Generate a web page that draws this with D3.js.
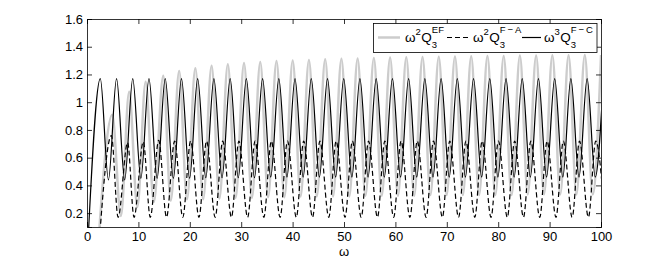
<!doctype html>
<html>
  <head>
    <meta charset="utf-8">
    <title>Q3 vs omega</title>
    <style>
      * { margin: 0; padding: 0; }
      body { background: #fff; }
      text { font-family: "Liberation Sans", Arial, sans-serif; fill: #000; }
    </style>
    <script src="https://cdnjs.cloudflare.com/ajax/libs/d3/7.8.5/d3.min.js"></script>
  </head>
  <body>
    <script>
      // values: extrema of each curve (omega, value)
      var xTicks = [0, 10, 20, 30, 40, 50, 60, 70, 80, 90, 100];
      var yTicks = [0.2, 0.4, 0.6, 0.8, 1, 1.2, 1.4, 1.6];

      // w^2 Q3^EF (light grey)
      var efX = [2.2, 4.9, 6.6, 8.2, 9.8, 11.41, 13.0, 14.84, 16.3, 17.93, 19.45, 21.08, 22.6, 24.24, 25.76, 27.4, 28.92,
                 30.55, 32.08, 33.71, 35.24, 36.87, 38.4, 40.02, 41.55, 43.18, 44.71, 46.34, 47.87, 49.5, 51.03, 52.65,
                 54.18, 55.81, 57.34, 58.97, 60.5, 62.12, 63.65, 65.28, 66.81, 68.44, 69.97, 71.59, 73.12, 74.75, 76.28,
                 77.91, 79.44, 81.07, 82.6, 84.22, 85.75, 87.38, 88.91, 90.54, 92.07, 93.69, 95.22, 96.85, 98.38, 100.01];
      var efY = [-0.02, 0.91, 0.18, 1.075, 0.245, 1.148, 0.28, 1.19, 0.29, 1.225, 0.30, 1.244, 0.30, 1.263, 0.305, 1.273, 0.31,
                 1.283, 0.31, 1.29, 0.315, 1.297, 0.315, 1.30, 0.32, 1.305, 0.32, 1.31, 0.32, 1.313, 0.32, 1.316,
                 0.325, 1.319, 0.325, 1.322, 0.325, 1.324, 0.325, 1.326, 0.33, 1.328, 0.33, 1.33, 0.33, 1.331, 0.33,
                 1.333, 0.33, 1.334, 0.33, 1.336, 0.335, 1.337, 0.335, 1.338, 0.335, 1.339, 0.335, 1.34, 0.335, 1.34];

      // w^2 Q3^F-A (dashed)
      var faX = [2.3, 4.75, 6.05, 7.9, 9.15, 10.95, 12.31, 13.95, 15.47, 17.05, 18.63, 20.16, 21.78, 23.26, 24.94, 26.4,
                 28.10, 29.55, 31.25, 32.7, 34.41, 35.86, 37.57, 39.0, 40.72, 42.16, 43.88, 45.31, 47.04, 48.47, 50.20,
                 51.63, 53.35, 54.78, 56.51, 57.94, 59.67, 61.10, 62.82, 64.25, 65.98, 67.41, 69.14, 70.57, 72.29, 73.72,
                 75.45, 76.88, 78.61, 80.04, 81.77, 83.20, 84.92, 86.35, 88.08, 89.51, 91.24, 92.67, 94.39, 95.82, 97.55,
                 98.98, 100.71];
      var faY = [-0.05, 0.76, 0.17, 0.71, 0.17, 0.715, 0.17, 0.725, 0.17, 0.72, 0.17, 0.72, 0.17, 0.72, 0.17, 0.72,
                 0.17, 0.72, 0.17, 0.72, 0.17, 0.72, 0.17, 0.72, 0.17, 0.72, 0.17, 0.72, 0.17, 0.72, 0.17,
                 0.72, 0.17, 0.72, 0.17, 0.72, 0.17, 0.72, 0.17, 0.72, 0.17, 0.72, 0.17, 0.72, 0.17, 0.72,
                 0.17, 0.72, 0.17, 0.72, 0.17, 0.72, 0.17, 0.72, 0.17, 0.72, 0.17, 0.72, 0.17, 0.72, 0.17,
                 0.72, 0.17];

      // w^3 Q3^F-C (solid black)
      var fcX = [0.2, 2.59, 4.17, 5.75, 7.33, 8.90, 10.48, 12.06, 13.64, 15.22, 16.80, 18.38, 19.96, 21.53, 23.11, 24.69,
                 26.27, 27.85, 29.43, 31.00, 32.58, 34.16, 35.74, 37.32, 38.90, 40.47, 42.05, 43.63, 45.21, 46.79, 48.37,
                 49.95, 51.53, 53.10, 54.68, 56.26, 57.84, 59.42, 61.00, 62.57, 64.15, 65.73, 67.31, 68.89, 70.47, 72.04,
                 73.62, 75.20, 76.78, 78.36, 79.94, 81.52, 83.10, 84.67, 86.25, 87.83, 89.41, 90.99, 92.57, 94.14, 95.72,
                 97.30, 98.88, 100.46];
      var fcY = [0.0, 1.17, 0.44, 1.17, 0.44, 1.17, 0.45, 1.17, 0.45, 1.17, 0.45, 1.17, 0.45, 1.17, 0.455, 1.17,
                 0.455, 1.17, 0.455, 1.17, 0.455, 1.17, 0.46, 1.17, 0.46, 1.17, 0.46, 1.17, 0.46, 1.17, 0.46,
                 1.17, 0.46, 1.17, 0.46, 1.17, 0.46, 1.17, 0.46, 1.17, 0.46, 1.17, 0.46, 1.17, 0.46, 1.17,
                 0.46, 1.17, 0.46, 1.17, 0.46, 1.17, 0.46, 1.17, 0.46, 1.17, 0.46, 1.17, 0.46, 1.17, 0.46,
                 1.17, 0.46, 1.17];

      var width = 664, height = 259;
      var plotLeft = 87, plotRight = 601, plotTop = 19, plotBottom = 227;

      var x = d3.scaleLinear().domain([0, 100]).range([plotLeft, plotRight]);
      var y = d3.scaleLinear().domain([0.1, 1.6]).range([plotBottom, plotTop]);

      var svg = d3.select("body").append("svg")
                  .attr("width", width)
                  .attr("height", height);

      svg.append("defs").append("clipPath").attr("id", "plotclip")
         .append("rect")
         .attr("x", plotLeft).attr("y", plotTop)
         .attr("width", plotRight - plotLeft).attr("height", plotBottom - plotTop);

      var zip = function(xs, ys) { return xs.map(function(v, i) { return [v, ys[i]]; }); };

      var line = d3.line()
                   .x(function(d) { return x(d[0]); })
                   .y(function(d) { return y(d[1]); })
                   .curve(d3.curveMonotoneX);

      var plot = svg.append("g").attr("clip-path", "url(#plotclip)");

      plot.append("path")
          .datum(zip(efX, efY))
          .attr("d", line)
          .attr("fill", "none")
          .attr("stroke", "#cccccc")
          .attr("stroke-width", 2.5);

      plot.append("path")
          .datum(zip(faX, faY))
          .attr("d", line)
          .attr("fill", "none")
          .attr("stroke", "#000")
          .attr("stroke-width", 1.2)
          .attr("stroke-dasharray", "5,3");

      plot.append("path")
          .datum(zip(fcX, fcY))
          .attr("d", line)
          .attr("fill", "none")
          .attr("stroke", "#000")
          .attr("stroke-width", 1.2);

      // axes, matlab style: ticks inward on all four sides
      var fmt = function(d) { return d3.format("")(+d.toFixed(1)); };

      svg.append("g").attr("transform", "translate(0," + plotBottom + ")")
         .call(d3.axisBottom(x).tickValues(xTicks).tickSize(-5).tickPadding(5).tickFormat(fmt));
      svg.append("g").attr("transform", "translate(0," + plotTop + ")")
         .call(d3.axisTop(x).tickValues(xTicks).tickSize(-5).tickFormat(""));
      svg.append("g").attr("transform", "translate(" + plotLeft + ",0)")
         .call(d3.axisLeft(y).tickValues(yTicks).tickSize(-5).tickPadding(4).tickFormat(fmt));
      svg.append("g").attr("transform", "translate(" + plotRight + ",0)")
         .call(d3.axisRight(y).tickValues(yTicks).tickSize(-5).tickFormat(""));

      svg.selectAll(".domain, .tick line")
         .attr("stroke", "#000")
         .attr("stroke-width", 0.8);
      svg.selectAll(".tick text")
         .style("font-size", "13px")
         .attr("fill", "#000");

      svg.append("text")
         .attr("x", x(50))
         .attr("y", 256)
         .attr("text-anchor", "middle")
         .style("font-size", "13px")
         .text("ω");

      // legend
      var legend = svg.append("g");
      legend.append("rect")
            .attr("x", 373.5).attr("y", 23.5)
            .attr("width", 223.5).attr("height", 29)
            .attr("fill", "#fff")
            .attr("stroke", "#000")
            .attr("stroke-width", 0.8);

      var mathLabel = function(x0, base, pow, sup) {
        var t = legend.append("text").attr("x", x0).attr("y", 42).style("font-size", "13.5px").text("ω");
        var cx = x0 + t.node().getComputedTextLength();
        t = legend.append("text").attr("x", cx).attr("y", 35).style("font-size", "9.5px").text(pow);
        cx += t.node().getComputedTextLength() + 0.5;
        t = legend.append("text").attr("x", cx).attr("y", 42).style("font-size", "13.5px").text(base);
        cx += t.node().getComputedTextLength();
        legend.append("text").attr("x", cx).attr("y", 47.5).style("font-size", "9.5px").text("3");
        legend.append("text").attr("x", cx).attr("y", 33).style("font-size", "9.5px")
              .attr("xml:space", "preserve").text(sup);
      };

      var entries = [
        { x1: 378, x2: 400, tx: 405, pow: "2", sup: "EF", color: "#cccccc", w: 2.5, dash: null },
        { x1: 447, x2: 471, tx: 473, pow: "2", sup: "F\u2009\u2212\u2009A", color: "#000", w: 1.2, dash: "5,3" },
        { x1: 522, x2: 541, tx: 544, pow: "3", sup: "F\u2009\u2212\u2009C", color: "#000", w: 1.2, dash: null }
      ];
      entries.forEach(function(e) {
        legend.append("line")
              .attr("x1", e.x1).attr("x2", e.x2)
              .attr("y1", 37.5).attr("y2", 37.5)
              .attr("stroke", e.color)
              .attr("stroke-width", e.w)
              .attr("stroke-dasharray", e.dash);
        mathLabel(e.tx, "Q", e.pow, e.sup);
      });
    </script>
  </body>
</html>
